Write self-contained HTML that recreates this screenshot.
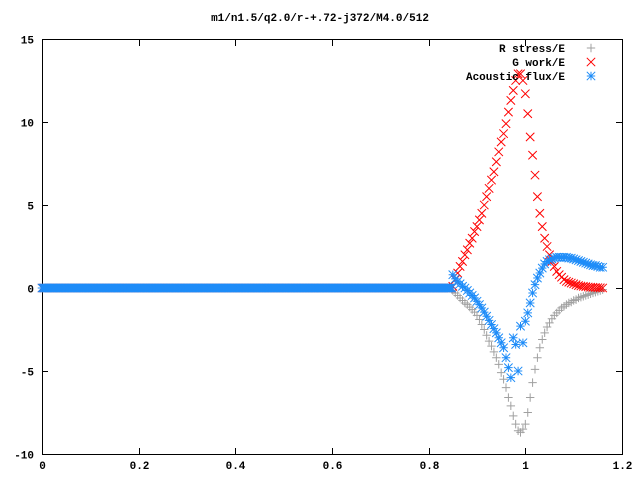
<!DOCTYPE html>
<html><head><meta charset="utf-8"><style>
body{margin:0;background:#fff}
svg{display:block;font-family:"Liberation Mono",monospace;font-size:11px;font-weight:bold}
</style></head><body>
<svg id="chart" width="640" height="480" viewBox="0 0 640 480" xmlns="http://www.w3.org/2000/svg">
<rect width="640" height="480" fill="#fff"/>
<text x="320" y="21" text-anchor="middle">m1/n1.5/q2.0/r-+.72-j372/M4.0/512</text>
<g id="axes"></g>
<g id="series"></g>
<g id="legend"></g>
</svg>
<script>
const xTicks=[0,0.2,0.4,0.6,0.8,1,1.2];
const xTickLabels=["0","0.2","0.4","0.6","0.8","1","1.2"];
const yTicks=[-10,-5,0,5,10,15];
const yTickLabels=["-10","-5","0","5","10","15"];
const flatStart=0, flatStep=0.0025, flatCount=340;
const activeStart=0.85, activeStep=0.005;
const rStress=[-0.15,-0.3,-0.45,-0.6,-0.75,-0.9,-1.0,-1.15,-1.3,-1.45,-1.65,-1.9,-2.2,-2.5,-2.85,-3.2,-3.5,-3.85,-4.2,-4.6,-5.1,-5.5,-6.0,-6.6,-7.1,-7.7,-8.2,-8.6,-8.7,-8.5,-8.2,-7.5,-6.6,-5.7,-4.9,-4.2,-3.6,-3.1,-2.7,-2.35,-2.1,-1.85,-1.65,-1.5,-1.35,-1.2,-1.1,-1.0,-0.9,-0.85,-0.75,-0.7,-0.6,-0.55,-0.5,-0.45,-0.4,-0.35,-0.3,-0.25,-0.2,-0.15,-0.1];
const gWork=[0.1,0.5,0.9,1.3,1.6,2.0,2.3,2.7,3.0,3.4,3.7,4.1,4.5,5.0,5.5,6.0,6.5,7.0,7.6,8.2,8.8,9.3,9.9,10.6,11.3,11.9,12.5,12.9,12.9,12.5,11.7,10.5,9.1,8.0,6.8,5.5,4.5,3.7,3.0,2.5,2.0,1.6,1.3,1.0,0.8,0.65,0.5,0.4,0.35,0.3,0.25,0.2,0.15,0.12,0.1,0.08,0.06,0.05,0.04,0.03,0.02,0.01,0.0];
const acoustic=[0.8,0.55,0.4,0.25,0.1,0.0,-0.15,-0.3,-0.45,-0.6,-0.8,-1.0,-1.2,-1.45,-1.7,-1.95,-2.2,-2.45,-2.7,-3.0,-3.3,-3.6,-4.2,-4.8,-5.4,-3.0,-3.4,-5.0,-2.3,-3.3,-2.0,-1.5,-0.9,-0.3,0.2,0.6,0.9,1.2,1.45,1.6,1.7,1.75,1.8,1.85,1.85,1.85,1.85,1.85,1.8,1.8,1.75,1.7,1.65,1.6,1.55,1.5,1.45,1.4,1.35,1.35,1.3,1.25,1.25];
const flatValue=0;

const NS="http://www.w3.org/2000/svg";
const L=42,R=622,T=39,B=454;
const X=v=>L+(v-0)/1.2*(R-L);
const Y=v=>B-(v+10)/25*(B-T);
function mk(tag,attrs,parent){const e=document.createElementNS(NS,tag);for(const k in attrs)e.setAttribute(k,attrs[k]);parent.appendChild(e);return e;}
const axes=document.getElementById('axes');
const frame=mk('rect',{x:L+0.5,y:T+0.5,width:R-L,height:B-T,fill:'none',stroke:'#000','stroke-width':1},axes);


xTicks.forEach((t,i)=>{const x=Math.round(X(t))+0.5;
 const tk=mk('path',{d:`M${x} ${B}v-6M${x} ${T+1}v6`,stroke:'#000','stroke-width':1},axes);
 
 
 const lb=mk('text',{x:x,y:469,'text-anchor':'middle'},axes);lb.textContent=xTickLabels[i];
 
 });
yTicks.forEach((t,i)=>{const y=Math.round(Y(t))+0.5;
 const tk=mk('path',{d:`M${L} ${y}h6M${R} ${y}h-6`,stroke:'#000','stroke-width':1},axes);
 
 
 const lb=mk('text',{x:34,y:y+4,'text-anchor':'end'},axes);lb.textContent=yTickLabels[i];
 
 });
function marker(kind,x,y,color,parent){
 let d;const s=4.2;
 if(kind==='plus')d=`M${x-s} ${y}h${2*s}M${x} ${y-s}v${2*s}`;
 else if(kind==='cross')d=`M${x-s} ${y-s}l${2*s} ${2*s}M${x-s} ${y+s}l${2*s} ${-2*s}`;
 else d=`M${x-s} ${y}h${2*s}M${x} ${y-s}v${2*s}M${x-s} ${y-s}l${2*s} ${2*s}M${x-s} ${y+s}l${2*s} ${-2*s}`;
 return mk('path',{d:d,stroke:color,'stroke-width':1,fill:'none'},parent);}
const series=document.getElementById('series');
const defs=[['r-stress-series','plus','#a0a0a0',rStress],['g-work-series','cross','#ff0000',gWork],['acoustic-flux-series','star','#1e8cf8',acoustic]];
defs.forEach(([name,kind,color,arr])=>{
 const g=mk('g',{},series);
 
 
 for(let i=0;i<flatCount;i++){const m=marker(kind,X(flatStart+i*flatStep),Y(flatValue),color,g);
  
  }
 arr.forEach((v,i)=>{const m=marker(kind,X(activeStart+i*activeStep),Y(v),color,g);
  
  });
});
const legend=document.getElementById('legend');
const labels=['R stress/E','G work/E','Acoustic flux/E'];
defs.forEach((d,i)=>{const y=48+i*14;
 const t=mk('text',{x:565,y:y+4,'text-anchor':'end'},legend);t.textContent=labels[i];
 
 
 const m=marker(d[1],591,y,d[2],legend);
 
 });
</script>
</body></html>
